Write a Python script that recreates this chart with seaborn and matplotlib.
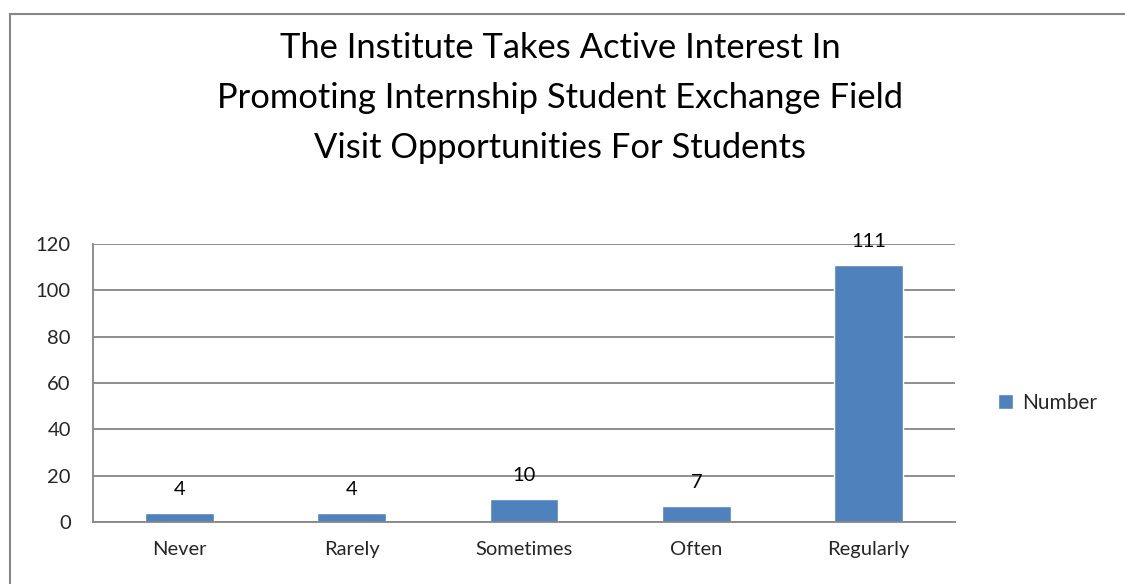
import matplotlib
matplotlib.use("Agg")
import matplotlib.pyplot as plt
import seaborn as sns
import pandas as pd
from matplotlib.patches import Rectangle

categories = ["Never", "Rarely", "Sometimes", "Often", "Regularly"]
counts = [4, 4, 10, 7, 111]
series_name = "Number"
title = ("The Institute Takes Active Interest In\n"
         "Promoting Internship Student Exchange Field\n"
         "Visit Opportunities For Students")

df = pd.DataFrame({"Response": categories, series_name: counts})

sns.set_theme(style="white")
plt.rcParams["font.family"] = ["Lato", "DejaVu Sans"]

bar_color = "#4F81BD"
grid_color = "#868686"

fig = plt.figure(figsize=(11.25, 5.84), dpi=100)
ax = fig.add_axes([93 / 1125, 1 - 522 / 584, (955 - 93) / 1125, (522 - 244) / 584])

sns.barplot(data=df, x="Response", y=series_name, color=bar_color, width=0.4,
            saturation=1, label=series_name, ax=ax)

ax.set_ylim(0, 120)
ax.set_xlim(-0.5, len(categories) - 0.5)
ax.set_yticks(range(0, 121, 20))
ax.yaxis.grid(True, color=grid_color, linewidth=1.3)
ax.set_axisbelow(True)
ax.set_xlabel("")
ax.set_ylabel("")

for side in ["top", "right"]:
    ax.spines[side].set_visible(False)
for side in ["left", "bottom"]:
    ax.spines[side].set_color(grid_color)
    ax.spines[side].set_linewidth(1.3)

# category ticks sit on the boundaries like in office charts
ax.set_xticks([i - 0.5 for i in range(len(categories) + 1)], minor=True)
ax.tick_params(axis="x", which="minor", length=8, color=grid_color, width=1.3)
ax.tick_params(axis="x", which="major", length=0, pad=14, labelsize=14.5)
ax.tick_params(axis="y", length=8, color=grid_color, width=1.3, pad=8, labelsize=14.5)

for i, v in enumerate(counts):
    ax.annotate(str(v), (i, v), xytext=(0, 10.5), textcoords="offset points",
                ha="center", va="bottom", fontsize=14.5, color="black",
                annotation_clip=False)

leg = ax.legend(loc="center left", bbox_to_anchor=(979 / 1125, 1 - 403 / 584),
                bbox_transform=fig.transFigure, frameon=False, fontsize=15,
                handlelength=0.75, handleheight=0.75, handletextpad=0.4)

fig.text(0.498, 1 - 98 / 584, title, ha="center", va="center", fontsize=24.8,
         linespacing=1.68, color="black")

fig.patches.append(Rectangle((10 / 1125, -0.1), 1.2, 1 - 14 / 584 + 0.1,
                             transform=fig.transFigure, fill=False,
                             edgecolor=grid_color, linewidth=1.5))

fig.savefig("out.png", dpi=100)
